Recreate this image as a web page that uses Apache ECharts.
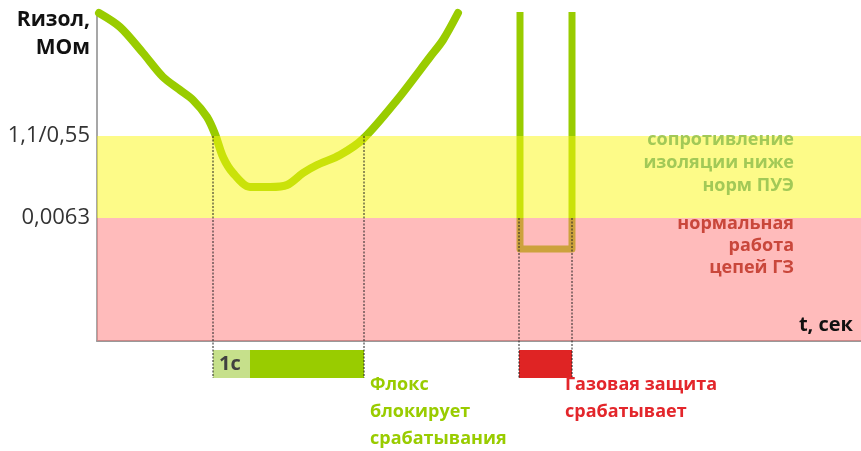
<!DOCTYPE html>
<html>
<head>
<meta charset="utf-8">
<script src="https://cdn.jsdelivr.net/npm/echarts@6/dist/echarts.min.js"></script>
<style>
html, body { margin: 0; padding: 0; background: #fff; }
#chart { width: 861px; height: 451px; }
</style>
</head>
<body>
<div id="chart"></div>
<script>
// кривая сопротивления изоляции, условные единицы (t -> R)
const curveT = [2, 23, 46, 66, 83, 96, 110, 118, 126, 136, 153, 173, 190, 206, 220, 243, 266, 300, 333, 346, 361]
const curveR = [328, 314, 288, 264, 251, 241, 224, 207, 184, 168, 154, 154, 156, 168, 176, 186, 202, 241, 284, 301, 328]
// провал при срабатывании газовой защиты
const gzT = [423, 423, 475, 475]
const gzR = [329, 92, 92, 329]
// пороги по оси Y
const yTicks = [123, 205]
const yTickLabels = ['0,0063', '1,1/0,55']
// зоны: нормальная работа ГЗ / ниже норм ПУЭ
const bandLow = [0, 123]
const bandHigh = [123, 205]
// вертикальные пунктиры
const guideT = [116, 267, 422, 475]
const guideFrom = [205, 205, 123, 123]
// отрезки времени под осью
const spanStart = [116, 153, 422]
const spanEnd = [153, 267, 475]
const spanLabels = ['1с', '', '']

const bandColors = ['rgba(255,119,119,0.5)', 'rgba(251,247,17,0.5)']
const spanColors = ['#c6e08b', '#99cc00', '#df2424']
const font = "'Open Sans', 'Noto Sans', sans-serif"

const dom = document.getElementById('chart')
const myChart = echarts.init(dom)

// текстовый блок, выровненный по правому краю в точке (x, y)
function rightText(text, x, y, size, color, lineHeight) {
  return {
    type: 'text', z: 10, x: x, y: y,
    style: { text: text, font: 'bold ' + size + 'px ' + font, fill: color, align: 'right', textAlign: 'right', verticalAlign: 'top', lineHeight: lineHeight }
  }
}
function leftText(text, x, y, size, color, lineHeight) {
  return {
    type: 'text', z: 10, x: x, y: y,
    style: { text: text, font: 'bold ' + size + 'px ' + font, fill: color, align: 'left', textAlign: 'left', verticalAlign: 'top', lineHeight: lineHeight }
  }
}

const option = {
  animation: false,
  textStyle: { fontFamily: font },
  grid: { left: 97, right: 0, top: 12, bottom: 110 },
  xAxis: {
    type: 'value',
    min: 0,
    max: 764,
    axisLine: { lineStyle: { color: '#999', width: 2 } },
    axisTick: { show: false },
    axisLabel: { show: false },
    splitLine: { show: false }
  },
  yAxis: {
    type: 'value',
    min: 0,
    max: 329,
    axisLine: { show: true, lineStyle: { color: '#8a8a8a', width: 1.5 } },
    axisTick: { show: false },
    splitLine: { show: false },
    axisLabel: {
      customValues: yTicks,
      formatter: (v) => yTickLabels[yTicks.indexOf(v)],
      fontSize: 22,
      color: '#333',
      margin: 7,
      fontFamily: font
    }
  },
  series: [
    {
      type: 'line',
      z: 2,
      smooth: 0.3,
      showSymbol: false,
      data: curveT.map((t, i) => [t, curveR[i]]),
      lineStyle: { color: '#99cc00', width: 8, cap: 'round' }
    },
    {
      type: 'line',
      z: 2,
      showSymbol: false,
      data: gzT.map((t, i) => [t, gzR[i]]),
      lineStyle: { color: '#99cc00', width: 7, join: 'round' }
    },
    {
      // зоны поверх кривой, полупрозрачные
      type: 'custom',
      z: 3,
      data: bandLow.map((lo, i) => [lo, bandHigh[i]]),
      renderItem: (params, api) => {
        const a = api.coord([0, api.value(1)])
        const b = api.coord([764, api.value(0)])
        return {
          type: 'rect',
          shape: { x: a[0], y: a[1], width: b[0] - a[0], height: b[1] - a[1] },
          style: { fill: bandColors[params.dataIndex] }
        }
      }
    },
    {
      type: 'custom',
      z: 4,
      data: guideT.map((t, i) => [t, guideFrom[i]]),
      renderItem: (params, api) => {
        const a = api.coord([api.value(0), api.value(1)])
        const b = api.coord([api.value(0), -37])
        return {
          type: 'line',
          shape: { x1: a[0], y1: a[1], x2: b[0], y2: b[1] },
          style: { stroke: '#222', lineWidth: 1, lineDash: [2, 1.5] }
        }
      }
    },
    {
      type: 'custom',
      z: 3,
      data: spanStart.map((s, i) => [s, spanEnd[i]]),
      renderItem: (params, api) => {
        const a = api.coord([api.value(0), -9])
        const b = api.coord([api.value(1), -37])
        return {
          type: 'rect',
          shape: { x: a[0], y: a[1], width: b[0] - a[0], height: b[1] - a[1] },
          style: {
            fill: spanColors[params.dataIndex],
            text: spanLabels[params.dataIndex],
            textPosition: 'insideLeft',
            textDistance: 6,
            textFill: '#404040',
            fontSize: 20,
            fontWeight: 'bold',
            fontFamily: font
          }
        }
      }
    }
  ],
  graphic: [
    rightText('Rизол,\nМОм', 90, 6, 21, '#111', 28),
    rightText('сопротивление\nизоляции ниже\nнорм ПУЭ', 794, 128, 18, '#a2c957', 23),
    rightText('нормальная\nработа\nцепей ГЗ', 794, 213, 18, '#c9473b', 22),
    rightText('t, сек', 853, 312, 20, '#111', 26),
    leftText('Флокс\nблокирует\nсрабатывания', 370, 371, 18, '#99cc00', 27),
    leftText('Газовая защита\nсрабатывает', 565, 371, 18, '#e3262b', 27)
  ]
}

myChart.setOption(option)
</script>
</body>
</html>
